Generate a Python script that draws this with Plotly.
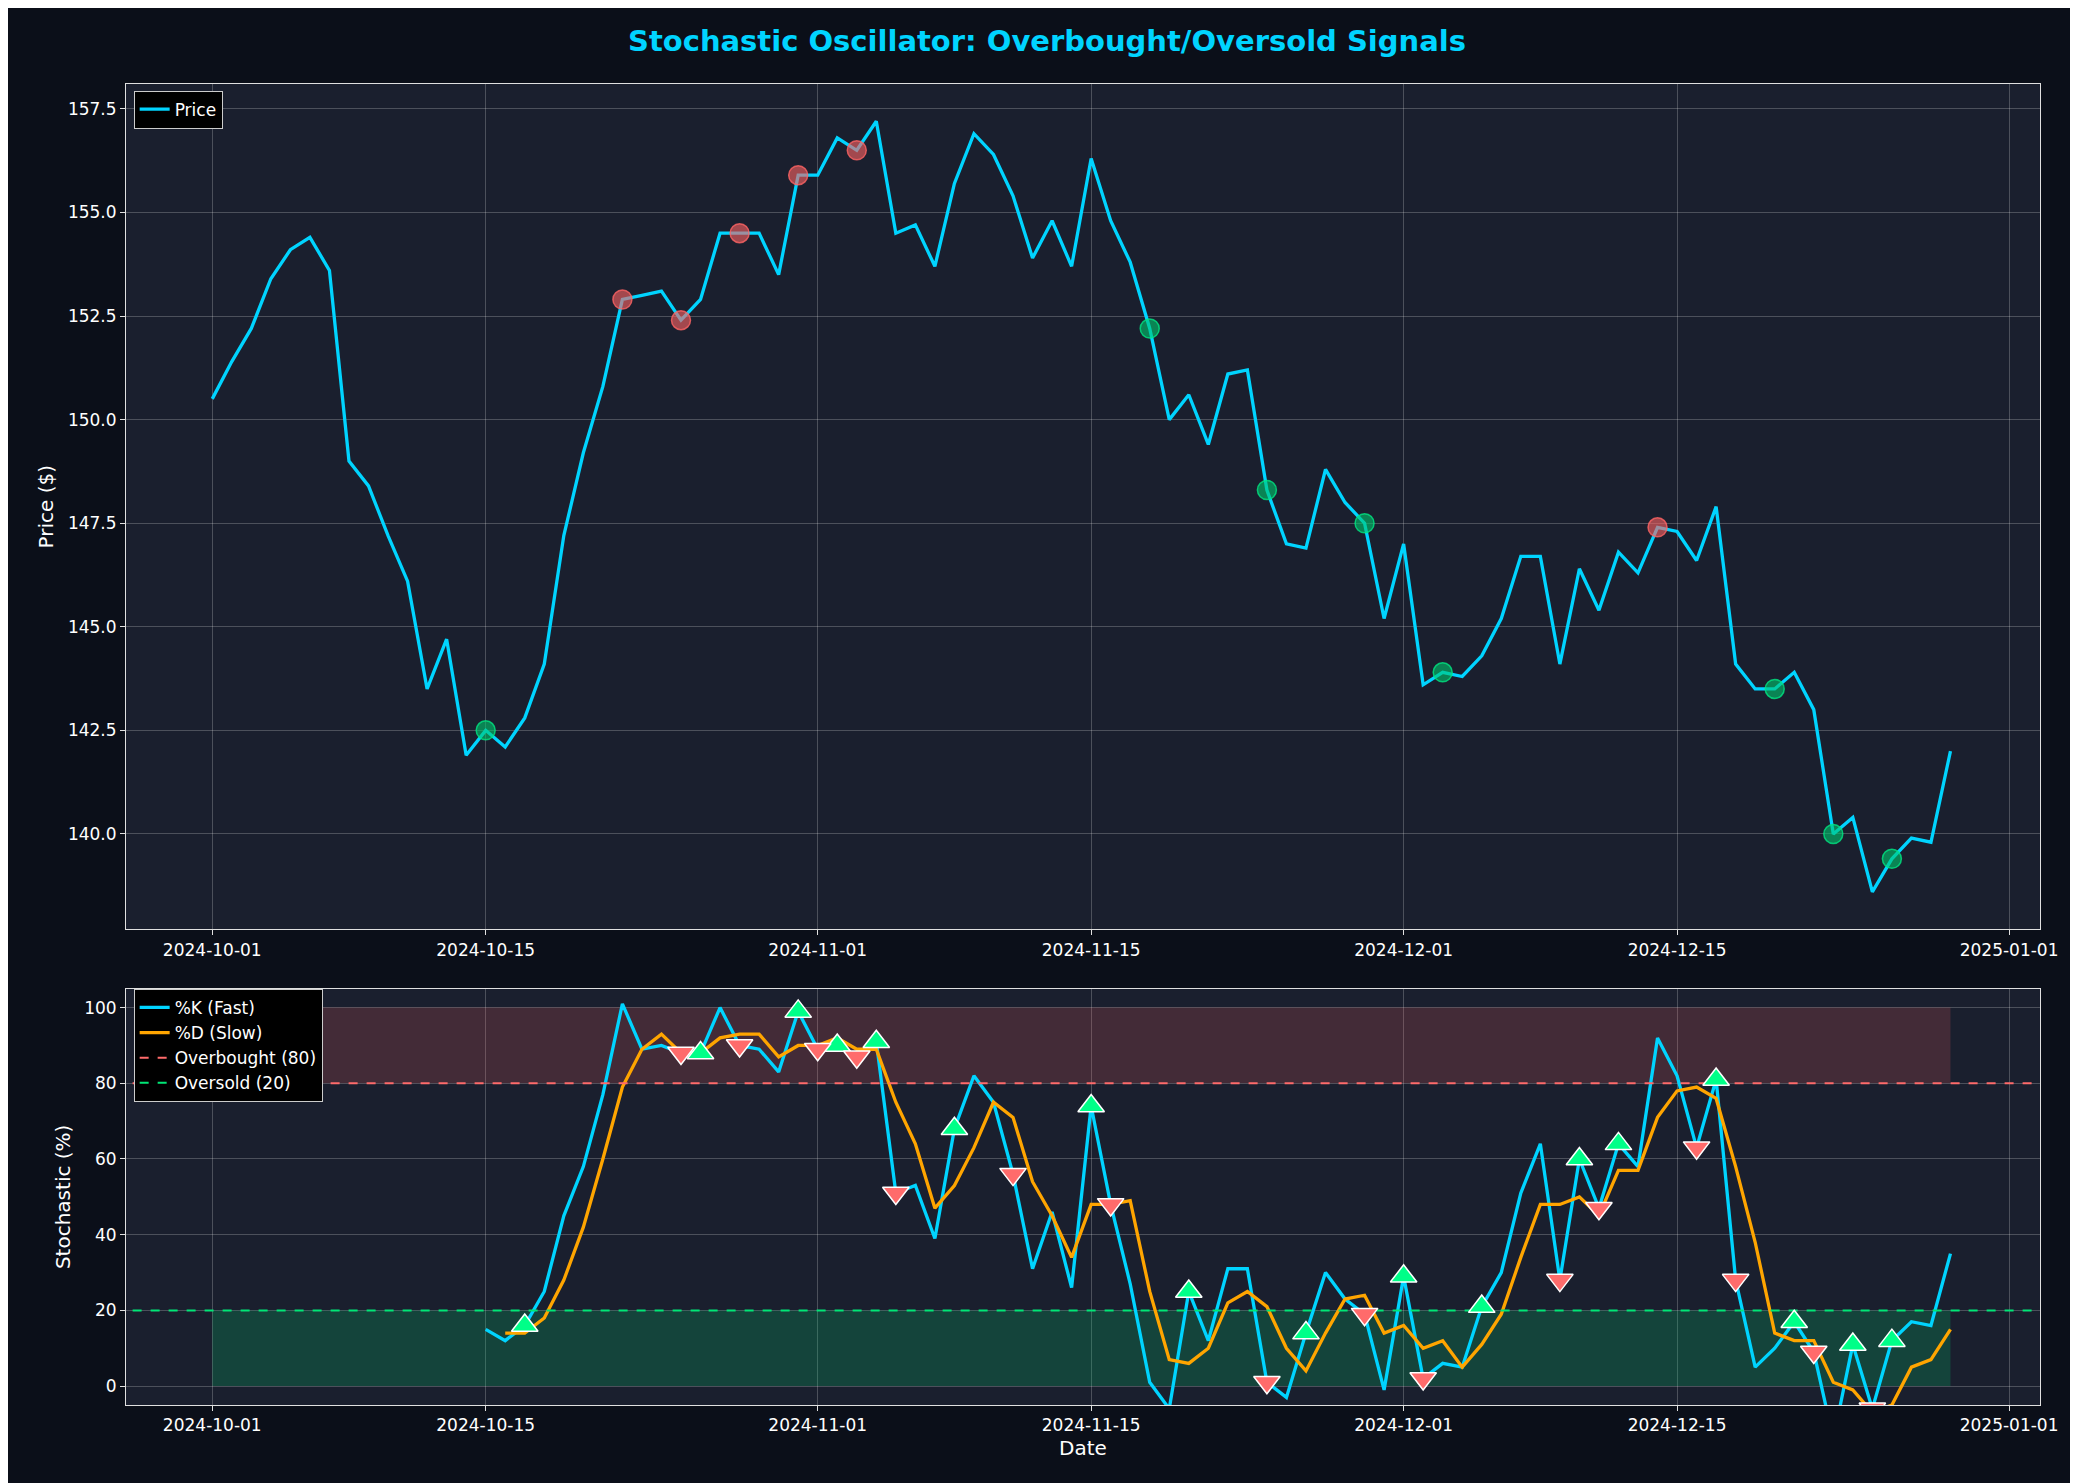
import pandas as pd
import plotly.graph_objects as go
from plotly.subplots import make_subplots

dates = pd.date_range("2024-10-01", periods=90, freq="D")
price = [150.5,151.4,152.2,153.4,154.1,154.4,153.6,149.0,148.4,147.2,146.1,143.5,144.7,141.9,142.5,142.1,142.8,144.1,147.2,149.2,
         150.8,152.9,153.0,153.1,152.4,152.9,154.5,154.5,154.5,153.5,155.9,155.9,156.8,156.5,157.2,154.5,154.7,153.7,155.7,156.9,
         156.4,155.4,153.9,154.8,153.7,156.3,154.8,153.8,152.2,150.0,150.6,149.4,151.1,151.2,148.3,147.0,146.9,148.8,148.0,147.5,
         145.2,147.0,143.6,143.9,143.8,144.3,145.2,146.7,146.7,144.1,146.4,145.4,146.8,146.3,147.4,147.3,146.6,147.9,144.1,143.5,
         143.5,143.9,143.0,140.0,140.4,138.6,139.4,139.9,139.8,142.0]
k_start = 14
k_vals = [15,12,16,25,45,58,77,101,89,90,88,88,100,90,89,83,99,89,90,87,91,51,53,39,68,82,75,56,31,46,26,74,48,27,1,-6,25,12,31,31,
          1,-3,14,30,23,19,-1,29,2,6,5,21,30,51,64,28,60,47,64,58,92,82,63,81,28,5,10,17,9,-14,11,-6,12,17,16,35]
d_start = 15
d_vals = [14,14,18,28,42,60,79,89,93,88,88,92,93,93,87,90,90,92,89,89,75,64,47,53,63,75,71,54,45,34,48,48,49,25,7,6,10,22,25,21,
          10,4,14,23,24,14,16,10,12,5,11,19,34,48,48,50,45,57,57,71,78,79,76,58,38,14,12,12,1,-1,-7,-5,5,7,15]
buy_idx = [16,25,30,32,34,38,45,50,56,61,65,70,72,77,81,84,86]
sell_idx = [24,27,31,33,35,41,46,54,59,62,69,71,76,78,82,85]
ob_idx = [21,24,27,30,33,74]
os_idx = [14,48,54,59,63,80,83,86]

K = dict(zip(range(k_start, k_start+len(k_vals)), k_vals))
kd = dates[k_start:k_start+len(k_vals)]
dd = dates[d_start:d_start+len(d_vals)]

fig = make_subplots(rows=2, cols=1, row_heights=[0.67, 0.33], vertical_spacing=0.045)
fig.add_trace(go.Scatter(x=dates, y=price, mode="lines", name="Price", line=dict(color="#00d4ff", width=3.3), legend="legend"), 1, 1)
fig.add_trace(go.Scatter(x=dates[ob_idx], y=[price[i] for i in ob_idx], mode="markers", showlegend=False,
                         marker=dict(size=19, color="rgba(255,100,100,0.6)", line=dict(color="rgba(255,100,100,0.8)", width=1.5))), 1, 1)
fig.add_trace(go.Scatter(x=dates[os_idx], y=[price[i] for i in os_idx], mode="markers", showlegend=False,
                         marker=dict(size=19, color="rgba(0,200,110,0.6)", line=dict(color="rgba(0,230,130,0.8)", width=1.5))), 1, 1)

x0, x1 = dates[0], dates[-1]
fig.add_trace(go.Scatter(x=[x0, x1, x1, x0], y=[80, 80, 100, 100], fill="toself", fillcolor="rgba(255,100,100,0.18)",
                         line=dict(width=0), mode="lines", showlegend=False, hoverinfo="skip"), 2, 1)
fig.add_trace(go.Scatter(x=[x0, x1, x1, x0], y=[0, 0, 20, 20], fill="toself", fillcolor="rgba(0,200,110,0.22)",
                         line=dict(width=0), mode="lines", showlegend=False, hoverinfo="skip"), 2, 1)
fig.add_trace(go.Scatter(x=kd, y=k_vals, mode="lines", name="%K (Fast)", line=dict(color="#00d4ff", width=3.3), legend="legend2"), 2, 1)
fig.add_trace(go.Scatter(x=dd, y=d_vals, mode="lines", name="%D (Slow)", line=dict(color="#ffa500", width=3.3), legend="legend2"), 2, 1)
fig.add_trace(go.Scatter(x=[pd.Timestamp("2024-09-26"), pd.Timestamp("2025-01-03")], y=[80, 80], mode="lines", name="Overbought (80)",
                         line=dict(color="#ff6b6b", width=2, dash="dash"), legend="legend2"), 2, 1)
fig.add_trace(go.Scatter(x=[pd.Timestamp("2024-09-26"), pd.Timestamp("2025-01-03")], y=[20, 20], mode="lines", name="Oversold (20)",
                         line=dict(color="#00e676", width=2, dash="dash"), legend="legend2"), 2, 1)
fig.add_trace(go.Scatter(x=dates[buy_idx], y=[K[i] for i in buy_idx], mode="markers", showlegend=False,
                         marker=dict(symbol="triangle-up", size=23, color="#00ff88", line=dict(color="white", width=1.5))), 2, 1)
fig.add_trace(go.Scatter(x=dates[sell_idx], y=[K[i] for i in sell_idx], mode="markers", showlegend=False,
                         marker=dict(symbol="triangle-down", size=23, color="#ff6b6b", line=dict(color="white", width=1.5))), 2, 1)

xr = [pd.Timestamp("2024-09-26 14:00"), pd.Timestamp("2025-01-02 14:00")]
ax = dict(showgrid=True, gridcolor="rgba(255,255,255,0.22)", showline=True, linecolor="#e0e0e0", mirror=True,
          ticks="outside", tickcolor="#e0e0e0", tickfont=dict(color="white", size=17), zeroline=False,
          range=xr, tickformat="%Y-%m-%d",
          tickvals=["2024-10-01", "2024-10-15", "2024-11-01", "2024-11-15", "2024-12-01", "2024-12-15", "2025-01-01"])
fig.update_xaxes(**ax)
fig.update_xaxes(title=dict(text="Date", font=dict(color="white", size=20), standoff=6), row=2, col=1)
ay = dict(showgrid=True, gridcolor="rgba(255,255,255,0.22)", showline=True, linecolor="#e0e0e0", mirror=True,
          ticks="outside", tickcolor="#e0e0e0", tickfont=dict(color="white", size=17), zeroline=False)
fig.update_yaxes(**ay)
fig.update_yaxes(range=[137.7, 158.1], tickvals=[140, 142.5, 145, 147.5, 150, 152.5, 155, 157.5], tickformat=".1f",
                 title=dict(text="Price ($)", font=dict(color="white", size=20), standoff=8), row=1, col=1)
fig.update_yaxes(range=[-5, 105], tickvals=[0, 20, 40, 60, 80, 100],
                 title=dict(text="Stochastic (%)", font=dict(color="white", size=20), standoff=8), row=2, col=1)

leg = dict(bgcolor="black", bordercolor="#cccccc", borderwidth=1, font=dict(color="white", size=17),
           xanchor="left", yanchor="top")
fig.update_layout(
    width=2078, height=1483,
    paper_bgcolor="#0b0f19", plot_bgcolor="#1a1f2e",
    font=dict(family="DejaVu Sans", color="white"),
    title=dict(text="<b>Stochastic Oscillator: Overbought/Oversold Signals</b>", x=0.5, y=0.985,
               font=dict(color="#00d4ff", size=29)),
    margin=dict(l=118, r=46, t=76, b=86),
    legend=dict(x=0.004, y=0.995, **leg),
    legend2=dict(x=0.004, y=0.315, **leg),
)
fig.write_html("out.html")
